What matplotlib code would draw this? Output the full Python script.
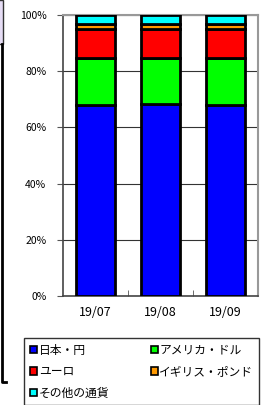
import matplotlib
matplotlib.use("Agg")
import matplotlib.pyplot as plt
from matplotlib.patches import Patch, Rectangle
import numpy as np

plt.rcParams['font.family'] = ['Noto Sans CJK JP', 'DejaVu Sans']

months = ["19/07", "19/08", "19/09"]
series = ["日本・円", "アメリカ・ドル", "ユーロ", "イギリス・ポンド", "その他の通貨"]
colors = ["#0000FF", "#00FF00", "#FF0000", "#FF9900", "#00FFFF"]
jpy = [68.0, 68.2, 67.9]
usd = [16.7, 16.6, 16.8]
eur = [10.3, 10.2, 10.3]
gbp = [1.8, 1.8, 1.8]
other = [3.2, 3.2, 3.2]
values = [jpy, usd, eur, gbp, other]
yticks = [0, 20, 40, 60, 80, 100]

W, H = 264, 405
fig = plt.figure(figsize=(W / 100, H / 100), dpi=100)
ax = fig.add_axes([63 / W, 1 - 296 / H, (258 - 63) / W, (296 - 15) / H])

x = np.arange(len(months))
bottom = np.zeros(len(months))
for name, vals, c in zip(series, values, colors):
    ax.bar(x, vals, width=0.6, bottom=bottom, color=c, edgecolor="black",
           linewidth=2, label=name, zorder=3)
    bottom += np.array(vals)

ax.set_xlim(-0.5, len(months) - 0.5)
ax.set_ylim(0, 100)
ax.set_yticks(yticks)
ax.set_yticklabels([f"{v}%" for v in yticks], fontsize=7.5)
ax.set_xticks(x)
ax.set_xticklabels(months, fontsize=9)
ax.tick_params(axis="x", length=0, pad=7)
ax.tick_params(axis="y", length=4, width=0.8, pad=8, color="#555555")
ax.set_xticks([0.5, 1.5], minor=True)
ax.tick_params(axis="x", which="minor", direction="in", length=4, color="#555555")
ax.grid(axis="y", color="#333333", linewidth=0.8, zorder=0)
for s in ["top", "right"]:
    ax.spines[s].set_color("#999999")
    ax.spines[s].set_linewidth(1.5)
for s in ["left", "bottom"]:
    ax.spines[s].set_color("#444444")
    ax.spines[s].set_linewidth(1.2)

# legend (column-major ordering to get row layout of the original)
order = [0, 2, 4, 1, 3]
handles = [Patch(facecolor=colors[i], edgecolor="black", linewidth=1.2) for i in order]
labels = [series[i] for i in order]
leg = fig.legend(handles, labels, loc="upper left", ncol=2,
                 bbox_to_anchor=(24 / W, 1 - 338 / H),
                 fontsize=8.5, frameon=True, fancybox=False, handlelength=0.6,
                 handleheight=0.6, handletextpad=0.15, borderaxespad=0,
                 labelspacing=0.7, borderpad=0.5, columnspacing=3.5)
leg.get_frame().set_edgecolor("black")
leg.get_frame().set_linewidth(1.0)

# neighbouring chart fragments at the left edge
fig.patches.append(Rectangle((-5 / W, 1 - 44 / H), 8 / W, 44 / H, transform=fig.transFigure,
                             facecolor="#E6DDF5", edgecolor="#333333", linewidth=1))
fig.lines.append(plt.Line2D([2 / W, 2 / W, 6 / W], [1 - 44 / H, 1 - 382 / H, 1 - 382 / H],
                            transform=fig.transFigure, color="black", linewidth=2))

fig.savefig("out.png", dpi=100)
